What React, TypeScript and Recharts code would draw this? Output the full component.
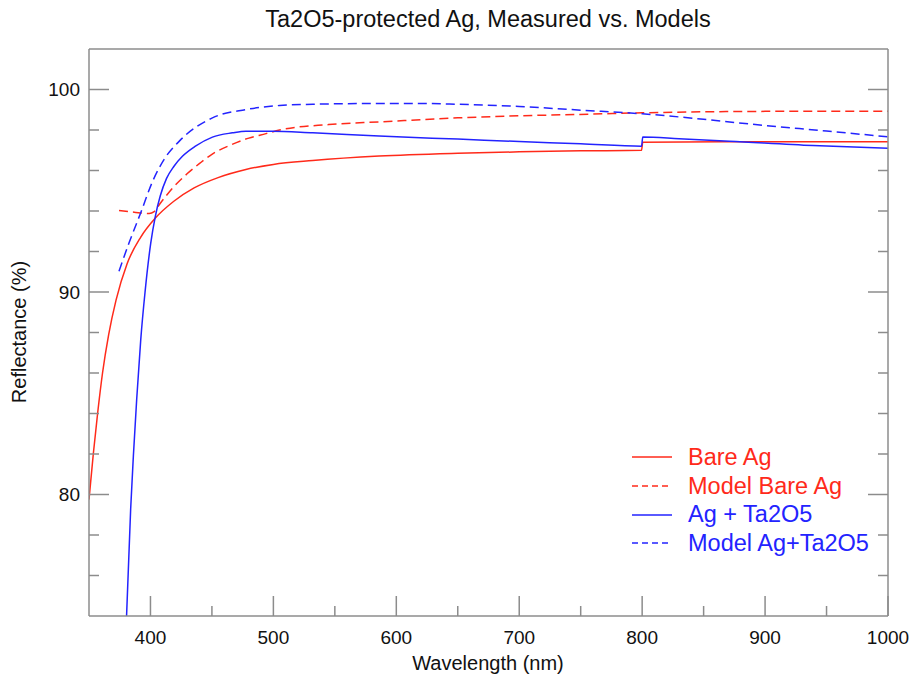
import { LineChart, Line, XAxis, YAxis, Legend } from 'recharts';

const RED = '#ff2a1a';
const BLUE = '#2323ff';
const FRAME = '#8c8c8c';
const FONT = "'Liberation Sans', Arial, Helvetica, sans-serif";

// Bare Ag (measured)
const bareNm = [350, 353.5, 357, 361, 366, 372, 381, 392, 404, 419, 435.5, 455, 477.6, 500, 532, 586, 650, 700, 750, 799.5, 800.5, 900, 1000];
const bareR = [79.75, 82.0, 84.0, 86.0, 87.9, 89.6, 91.4, 92.7, 93.65, 94.48, 95.14, 95.65, 96.05, 96.3, 96.49, 96.71, 96.85, 96.92, 96.97, 97.0, 97.4, 97.42, 97.42];

// Model Bare Ag
const modelBareNm = [374.4, 386.7, 398.9, 403, 407, 419, 430, 440, 450, 465, 480, 494, 505, 545, 586, 650, 700, 749, 800, 900, 1000];
const modelBareR = [94.02, 93.94, 93.88, 93.97, 94.3, 95.2, 95.85, 96.35, 96.8, 97.25, 97.6, 97.82, 98.0, 98.27, 98.4, 98.6, 98.7, 98.77, 98.85, 98.92, 98.93];

// Ag + Ta2O5 (measured)
const taNm = [380.5, 383.9, 386.1, 388.8, 392.1, 395.6, 400.2, 404, 408, 413, 419, 426, 436.6, 450.4, 466.7, 477.6, 499, 532, 586, 650, 700, 750, 799.5, 800.5, 830, 871, 939, 1000];
const taR = [73.9, 79.3, 81.9, 84.7, 87.65, 90.0, 92.4, 93.75, 94.75, 95.6, 96.2, 96.7, 97.2, 97.65, 97.86, 97.94, 97.94, 97.86, 97.7, 97.55, 97.43, 97.32, 97.2, 97.65, 97.57, 97.45, 97.23, 97.1];

// Model Ag+Ta2O5
const modelTaNm = [374.4, 382.6, 392, 402, 411, 423.5, 450.4, 477.6, 505, 532, 586, 620, 650, 700, 750, 800, 850, 900, 950, 1000];
const modelTaR = [91.03, 92.43, 93.9, 95.5, 96.54, 97.45, 98.6, 99.01, 99.21, 99.27, 99.31, 99.31, 99.27, 99.16, 98.98, 98.8, 98.53, 98.22, 97.95, 97.66];

const xTicks = [400, 450, 500, 550, 600, 650, 700, 750, 800, 850, 900, 950, 1000];
const yTicks = [76, 78, 80, 82, 84, 86, 88, 90, 92, 94, 96, 98, 100];

const toPoints = (nm: number[], r: number[]) => nm.map((x, i) => ({ nm: x, r: r[i] }));

const legendItems = [
  { name: 'Bare Ag', color: RED, dash: undefined },
  { name: 'Model Bare Ag', color: RED, dash: '6 4' },
  { name: 'Ag + Ta2O5', color: BLUE, dash: undefined },
  { name: 'Model Ag+Ta2O5', color: BLUE, dash: '6 4' },
];

const isMajorX = (v: number) => v % 100 === 0;
const isMajorY = (v: number) => v % 10 === 0;

function BottomTick({ x, y, payload }: any) {
  const major = isMajorX(payload.value);
  return (
    <g>
      <line x1={x} x2={x} y1={y} y2={y - (major ? 20 : 10)} stroke={FRAME} strokeWidth={1.5} />
      {major && (
        <text x={x} y={y + 28} textAnchor="middle" fontSize={19} fill="#111">
          {payload.value}
        </text>
      )}
    </g>
  );
}

function TopTick({ x, y, payload }: any) {
  const major = isMajorX(payload.value);
  return <line x1={x} x2={x} y1={y} y2={y + (major ? 20 : 10)} stroke={FRAME} strokeWidth={1.5} />;
}

function LeftTick({ x, y, payload }: any) {
  const major = isMajorY(payload.value);
  return (
    <g>
      <line x1={x} x2={x + (major ? 20 : 10)} y1={y} y2={y} stroke={FRAME} strokeWidth={1.5} />
      {major && (
        <text x={x - 9} y={y} dy="0.36em" textAnchor="end" fontSize={19} fill="#111">
          {payload.value}
        </text>
      )}
    </g>
  );
}

function RightTick({ x, y, payload }: any) {
  const major = isMajorY(payload.value);
  return <line x1={x} x2={x - (major ? 20 : 10)} y1={y} y2={y} stroke={FRAME} strokeWidth={1.5} />;
}

function LegendBox() {
  return (
    <div style={{ fontFamily: FONT, fontSize: 23.5 }}>
      {legendItems.map((it) => (
        <div key={it.name} style={{ display: 'flex', alignItems: 'center', height: 28.7 }}>
          <svg width={56} height={10}>
            <line x1={0} x2={40} y1={5} y2={5} stroke={it.color} strokeWidth={1.5} strokeDasharray={it.dash} />
          </svg>
          <span style={{ color: it.color }}>{it.name}</span>
        </div>
      ))}
    </div>
  );
}

export default function App() {
  const axisLine = { stroke: FRAME, strokeWidth: 1.5 };
  return (
    <div style={{ position: 'absolute', left: 0, top: 0, width: 911, height: 681, background: '#fff', fontFamily: FONT }}>
      <LineChart width={911} height={681} margin={{ top: 48, right: 22, bottom: 64, left: 88 }}>
        <XAxis dataKey="nm" type="number" domain={[350, 1000]} ticks={xTicks} interval={0} height={1}
          tickSize={0} tickMargin={0} tickLine={false} axisLine={axisLine} tick={<BottomTick />} allowDataOverflow />
        <XAxis xAxisId="top" orientation="top" type="number" domain={[350, 1000]} ticks={xTicks} interval={0} height={1}
          tickSize={0} tickMargin={0} tickLine={false} axisLine={axisLine} tick={<TopTick />} allowDataOverflow />
        <YAxis type="number" domain={[74, 102]} ticks={yTicks} interval={0} width={1}
          tickSize={0} tickMargin={0} tickLine={false} axisLine={axisLine} tick={<LeftTick />} allowDataOverflow />
        <YAxis yAxisId="right" orientation="right" type="number" domain={[74, 102]} ticks={yTicks} interval={0} width={1}
          tickSize={0} tickMargin={0} tickLine={false} axisLine={axisLine} tick={<RightTick />} allowDataOverflow />
        <Legend verticalAlign="middle" align="center" layout="horizontal" content={<LegendBox />}
          wrapperStyle={{ position: 'absolute', left: 632, top: 443, width: 270, bottom: 'auto' }} />
        <Line data={toPoints(bareNm, bareR)} dataKey="r" name="Bare Ag" type="monotone" stroke={RED}
          strokeWidth={1.5} dot={false} isAnimationActive={false} />
        <Line data={toPoints(modelBareNm, modelBareR)} dataKey="r" name="Model Bare Ag" type="monotone" stroke={RED}
          strokeWidth={1.5} strokeDasharray="9 5" dot={false} isAnimationActive={false} />
        <Line data={toPoints(taNm, taR)} dataKey="r" name="Ag + Ta2O5" type="monotone" stroke={BLUE}
          strokeWidth={1.5} dot={false} isAnimationActive={false} />
        <Line data={toPoints(modelTaNm, modelTaR)} dataKey="r" name="Model Ag+Ta2O5" type="monotone" stroke={BLUE}
          strokeWidth={1.5} strokeDasharray="9 5" dot={false} isAnimationActive={false} />
      </LineChart>
      <svg width={911} height={681} style={{ position: 'absolute', left: 0, top: 0, pointerEvents: 'none' }}>
        <text x={488} y={27} textAnchor="middle" fontSize={23.5} fill="#111">Ta2O5-protected Ag, Measured vs. Models</text>
        <text x={488} y={670} textAnchor="middle" fontSize={20} fill="#111">Wavelength (nm)</text>
        <text x={26} y={332} textAnchor="middle" fontSize={20} fill="#111" transform="rotate(-90 26 332)">Reflectance (%)</text>
      </svg>
    </div>
  );
}
